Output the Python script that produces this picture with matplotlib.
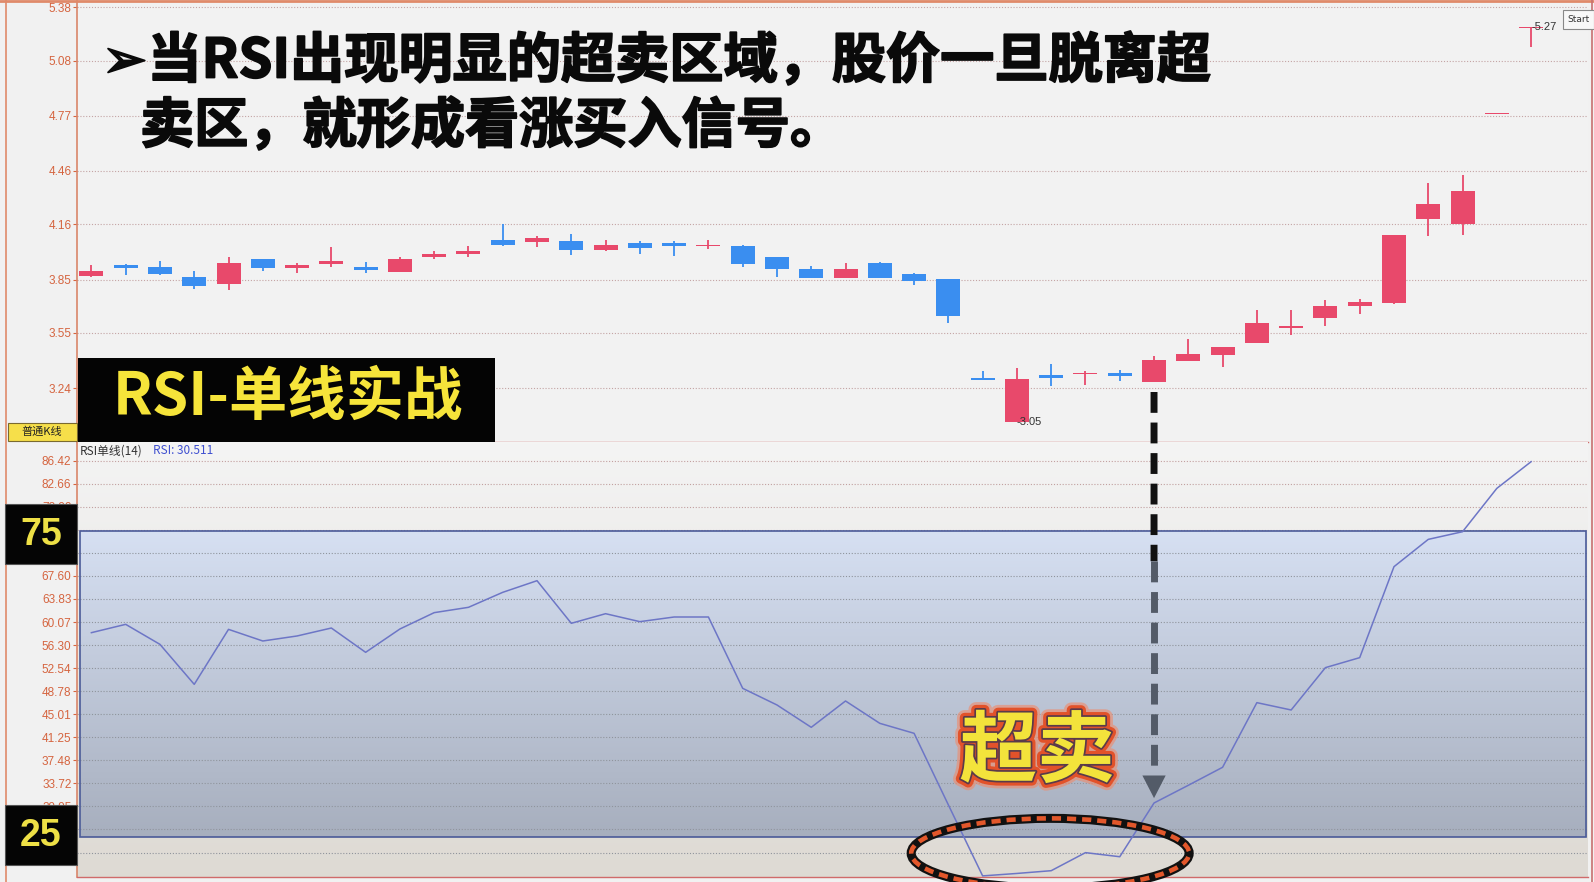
import numpy as np
import matplotlib
matplotlib.use('Agg')
import matplotlib.pyplot as plt
import matplotlib.patheffects as pe
from matplotlib.patches import Rectangle, Ellipse, Polygon, ConnectionPatch
from matplotlib.lines import Line2D

W, H = 1594, 882

# candle data
opens = [3.871, 3.934, 3.922, 3.865, 3.827, 3.966, 3.915, 3.937, 3.922, 3.894,
         3.974, 3.991, 4.074, 4.059, 4.065, 4.015, 4.053, 4.053, 4.038, 4.040,
         3.975, 3.907, 3.861, 3.945, 3.882, 3.852, 3.288, 3.048, 3.311, 3.317,
         3.323, 3.276, 3.394, 3.427, 3.493, 3.579, 3.633, 3.699, 3.718, 4.193,
         4.161, 4.780, 5.262]
closes = [3.898, 3.915, 3.880, 3.816, 3.943, 3.917, 3.934, 3.955, 3.903, 3.964,
          3.996, 4.012, 4.046, 4.086, 4.015, 4.042, 4.025, 4.040, 4.046, 3.937,
          3.907, 3.861, 3.907, 3.860, 3.843, 3.643, 3.286, 3.291, 3.296, 3.326,
          3.306, 3.396, 3.431, 3.469, 3.605, 3.589, 3.703, 3.723, 4.101, 4.276,
          4.350, 4.781, 5.266]
highs = [3.930, 3.936, 3.955, 3.898, 3.979, 3.968, 3.945, 4.031, 3.951, 3.974,
         4.010, 4.040, 4.160, 4.097, 4.107, 4.073, 4.065, 4.065, 4.074, 4.042,
         3.977, 3.926, 3.941, 3.946, 3.884, 3.853, 3.338, 3.353, 3.377, 3.334,
         3.343, 3.422, 3.516, 3.470, 3.680, 3.680, 3.736, 3.740, 4.102, 4.395,
         4.437, 4.781, 5.270]
lows = [3.863, 3.875, 3.875, 3.797, 3.793, 3.898, 3.888, 3.922, 3.888, 3.890,
        3.964, 3.979, 4.040, 4.031, 3.989, 4.012, 3.996, 3.983, 4.019, 3.922,
        3.863, 3.858, 3.858, 3.859, 3.821, 3.605, 3.286, 3.048, 3.250, 3.259,
        3.282, 3.276, 3.390, 3.356, 3.493, 3.540, 3.590, 3.656, 3.714, 4.092,
        4.101, 4.780, 5.155]

rsi = [58.33, 59.69, 56.42, 49.89, 58.87, 56.97, 57.79, 59.09, 55.12, 58.93,
       61.60, 62.47, 64.92, 66.82, 59.86, 61.43, 60.13, 60.89, 60.89, 49.24,
       46.52, 42.87, 47.17, 43.52, 41.89, 30.20, 18.60, 19.00, 19.45, 22.40,
       21.73, 30.51, 33.40, 36.34, 46.90, 45.70, 52.62, 54.25, 69.11, 73.57,
       74.82, 81.90, 86.26]

price_ticks = [5.38, 5.08, 4.77, 4.46, 4.16, 3.85, 3.55, 3.24]
rsi_ticks = [86.42, 82.66, 78.90, 75.13, 71.37, 67.60, 63.83, 60.07, 56.30,
             52.54, 48.78, 45.01, 41.25, 37.48, 33.72, 29.95, 26.19, 22.42]
# labels sitting fully behind the 75 / 25 boxes are not visible
rsi_hidden = [75.13, 71.37, 26.19, 22.42]
rsi_low, rsi_high = 25, 75
signal_idx = 31
signal_rsi = 30.511

RED = '#e8496b'
BLUE = '#3a8ef0'
TICK_C = '#d5643f'
CJK = ['Noto Sans CJK SC', 'DejaVu Sans']


def fx(px):
    return px / W


def fy(py):
    return 1 - py / H


fig = plt.figure(figsize=(W / 100, H / 100), dpi=100)
fig.patch.set_facecolor('#f1f1f1')

ax1 = fig.add_axes([fx(77), fy(442), fx(1588) - fx(77), 442 / H])
ax2 = fig.add_axes([fx(77), fy(877), fx(1588) - fx(77), (877 - 442) / H])

x = np.arange(len(opens))
o, c, h, l = (np.array(v) for v in (opens, closes, highs, lows))
cols = np.where(c >= o, RED, BLUE)

# ---- price panel
ax1.set_facecolor('#f2f2f2')
for t in price_ticks:
    ax1.axhline(t, color='#c4a4a4', lw=0.8, ls=(0, (1, 1.6)), zorder=1)
ax1.vlines(x, l, h, colors=cols, lw=1.3, zorder=3)
ax1.bar(x, np.maximum(np.abs(c - o), 0.008), bottom=np.minimum(o, c),
        width=0.7, color=cols, zorder=4)
lo_i = int(np.argmin(l))
hi_i = int(np.argmax(h))
ax1.text(lo_i, l[lo_i], '-%.2f' % l[lo_i], ha='left', va='center',
         fontsize=8, color='#333333', family='Liberation Sans', zorder=6)
ax1.text(hi_i, h[hi_i], '-%.2f' % h[hi_i], ha='left', va='center',
         fontsize=8, color='#333333', family='Liberation Sans', zorder=6)
ax1.set_ylim(2.937, 5.421)

# ---- RSI panel
ax2.set_facecolor('#ececec')
bg = np.linspace(0, 1, 256)[:, None]
top_c = np.array([0.957, 0.957, 0.957])
bot_c = np.array([0.870, 0.855, 0.830])
img = top_c + (bot_c - top_c) * bg[..., None]
ax2.imshow(img, extent=(0, 1, 0, 1), transform=ax2.transAxes,
           aspect='auto', zorder=0)
rt = np.array([0.840, 0.878, 0.950])
rb = np.array([0.655, 0.685, 0.745])
rimg = rt + (rb - rt) * bg[..., None]
ax2.imshow(rimg, extent=(-0.34, 43.6, rsi_low, rsi_high), aspect='auto', zorder=1)
ax2.add_patch(Rectangle((-0.34, rsi_low), 43.94, rsi_high - rsi_low,
                        fill=False, ec='#4b5b98', lw=1.2, zorder=2))
for t in rsi_ticks:
    col = '#c2a0a0' if t > rsi_high else '#8f949c'
    ax2.axhline(t, color=col, lw=0.8, ls=(0, (1, 1.6)), zorder=1.5)
ax2.plot(x, rsi, color='#6d76c6', lw=1.1, zorder=5)
ax2.set_ylim(18.42, 89.475)

for ax, ticks in ((ax1, price_ticks), (ax2, rsi_ticks)):
    ax.set_xlim(-0.42, 43.66)
    ax.set_xticks([])
    ax.set_yticks(ticks)
    labels = ['' if t in rsi_hidden else '%.2f' % t for t in ticks]
    ax.set_yticklabels(labels, fontsize=8.5, color=TICK_C,
                       family='Liberation Sans')
    ax.tick_params(axis='y', length=3, width=0.8, color=TICK_C, pad=1)
    for s in ('top', 'right'):
        ax.spines[s].set_visible(False)
    ax.spines['left'].set_color('#d9866a')
    ax.spines['left'].set_linewidth(1.2)
    ax.spines['bottom'].set_color('#d06a6a')
    ax.spines['bottom'].set_linewidth(1.0)

# ---- overbought/oversold labels
for val, ytop in ((rsi_high, 504), (rsi_low, 805)):
    fig.add_artist(Rectangle((fx(5), fy(ytop + 60)), fx(77) - fx(5), 60 / H,
                             transform=fig.transFigure, fc='#050505',
                             ec='#555555', lw=0.8, zorder=10))
    fig.text(fx(41), fy(ytop + 31), str(val), ha='center', va='center',
             fontsize=27, fontweight='bold', color='#eee046',
             family='Liberation Sans', zorder=11)

fig.add_artist(Rectangle((fx(8), fy(441)), fx(77) - fx(8), 18 / H,
                         transform=fig.transFigure, fc='#f6df4a',
                         ec='#7a6a30', lw=0.8, zorder=10))
fig.text(fx(42), fy(432), '普通K线', ha='center', va='center', fontsize=8,
         color='#222222', family=CJK, zorder=11)

fig.text(fx(80), fy(451), 'RSI单线(14)', ha='left', va='center', fontsize=8.5,
         color='#333333', family=CJK, zorder=11)
fig.text(fx(153), fy(451), 'RSI: %.3f' % signal_rsi, ha='left', va='center',
         fontsize=8.5, color='#3e4fd0', family=CJK, zorder=11)

# ---- title box
fig.add_artist(Rectangle((fx(78), fy(442)), fx(495) - fx(78), 84 / H,
                         transform=fig.transFigure, fc='#040404', zorder=10))
fig.text(fx(288), fy(398), 'RSI-单线实战', ha='center', va='center',
         fontsize=42, fontweight='bold', color='#f6e43a', family=CJK, zorder=11)

heavy = [pe.withStroke(linewidth=1.3, foreground='#0a0a0a')]
fig.text(fx(102), fy(62), '➢当RSI出现明显的超卖区域，股价一旦脱离超',
         ha='left', va='center', fontsize=39, fontweight='bold',
         color='#0a0a0a', family=CJK, zorder=11, path_effects=heavy)
fig.text(fx(140), fy(127), '卖区，就形成看涨买入信号。',
         ha='left', va='center', fontsize=39, fontweight='bold',
         color='#0a0a0a', family=CJK, zorder=11, path_effects=heavy)

# ---- signal arrow
dash = (0, (3.0, 1.4))
con = ConnectionPatch(xyA=(signal_idx, 3.218), coordsA=ax1.transData,
                      xyB=(signal_idx, 70), coordsB=ax2.transData,
                      color='#111111', lw=5, ls=dash, capstyle='butt', zorder=12)
fig.add_artist(con)
ax2.plot([signal_idx, signal_idx], [70, 35.2], color='#535b68', lw=5, ls=dash,
         solid_capstyle='butt', dash_capstyle='butt', zorder=12)
ax2.add_patch(Polygon([(signal_idx - 0.34, 35.0), (signal_idx + 0.34, 35.0),
                       (signal_idx, 31.3)], closed=True, fc='#535b68',
                      ec='none', zorder=12))

# ---- oversold marker
ax2.add_patch(Ellipse((27.97, 22.3), 8.11, 11.4, fill=False, ec='#111111',
                      lw=6.5, clip_on=False, zorder=13))
ax2.add_patch(Ellipse((27.97, 22.3), 8.11, 11.4, fill=False, ec='#e2572b',
                      lw=3.3, ls=(0, (2.0, 1.3)), clip_on=False, zorder=14))
ax2.text(27.59, 38.67, '超卖', ha='center', va='center', fontsize=56,
         fontweight='bold', color='#f3e33b', family=CJK, zorder=14,
         path_effects=[pe.Stroke(linewidth=11, foreground='#f08a6a', alpha=0.6),
                       pe.Stroke(linewidth=7, foreground='#e2522a'),
                       pe.Stroke(linewidth=2.5, foreground='#5a3a4a'),
                       pe.Normal()])

# ---- frame bits
fig.add_artist(Line2D([fx(6), fx(6)], [0, 1], transform=fig.transFigure,
                      color='#e08a6a', lw=1.2))
fig.add_artist(Line2D([0, 1], [fy(1), fy(1)], transform=fig.transFigure,
                      color='#e08a6a', lw=2))
fig.add_artist(Line2D([fx(1592), fx(1592)], [0, 1], transform=fig.transFigure,
                      color='#c87070', lw=1.2))
fig.add_artist(Rectangle((fx(1563), fy(29)), fx(1594) - fx(1563), 19 / H,
                         transform=fig.transFigure, fc='#f8f8f8',
                         ec='#888888', lw=0.8, zorder=10))
fig.text(fx(1579), fy(19.5), 'Start', ha='center', va='center', fontsize=6.5,
         color='#333333', zorder=11)

fig.savefig('out.png', dpi=100, facecolor=fig.get_facecolor())
